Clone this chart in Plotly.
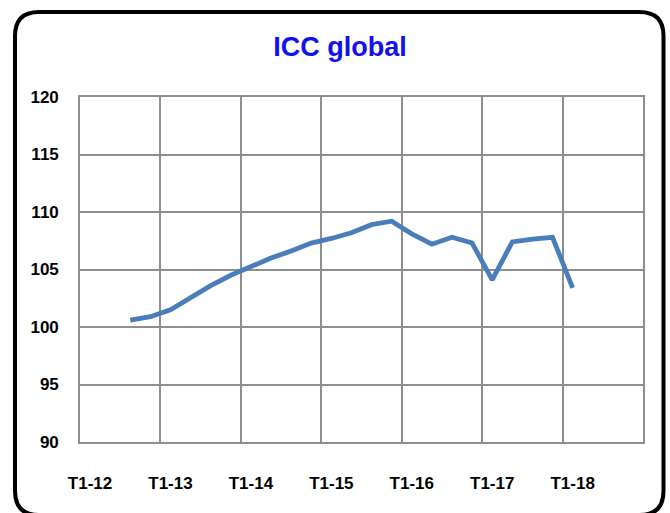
import plotly.graph_objects as go

# ---- data ----
years = ["12", "13", "14", "15", "16", "17", "18"]
quarters = [f"T{q}-{y}" for y in years for q in range(1, 5)]  # 28 quarterly categories
icc_values = [None, None,
              100.6, 100.9,
              101.5, 102.6, 103.6, 104.5,
              105.3, 106.0, 106.6, 107.3,
              107.7, 108.2, 108.9, 109.2,
              108.1, 107.2, 107.8, 107.3,
              104.1, 107.4, 107.65, 107.8,
              103.4, None, None, None]
tick_labels = [f"T1-{y}" for y in years]
title_text = "ICC global"

# ---- layout geometry ----
W, H = 670, 513
L, R, T, B = 80, 27, 97, 71
pw, ph = W - L - R, H - T - B


def px(x):
    return (x - L) / pw


def py(y):
    return (H - B - y) / ph


xs = list(range(len(quarters)))
tick_pos = [quarters.index(t) for t in tick_labels]
boundaries = [i - 0.5 for i in range(0, len(quarters) + 1, 4)]

fig = go.Figure()
fig.add_trace(go.Scatter(
    x=xs, y=icc_values, mode="lines",
    line=dict(color="#4a7ebb", width=4.8),
    connectgaps=False, showlegend=False, hoverinfo="skip",
    cliponaxis=False,
))

# rounded frame around the whole chart
x0, x1, y0, y1, r = 15, 663.5, 12, 515, 24
path = (
    f"M {px(x0 + r)},{py(y0)} L {px(x1 - r)},{py(y0)} "
    f"Q {px(x1)},{py(y0)} {px(x1)},{py(y0 + r)} "
    f"L {px(x1)},{py(y1 - r)} Q {px(x1)},{py(y1)} {px(x1 - r)},{py(y1)} "
    f"L {px(x0 + r)},{py(y1)} Q {px(x0)},{py(y1)} {px(x0)},{py(y1 - r)} "
    f"L {px(x0)},{py(y0 + r)} Q {px(x0)},{py(y0)} {px(x0 + r)},{py(y0)} Z"
)
fig.add_shape(type="path", path=path, xref="paper", yref="paper",
              line=dict(color="black", width=4), layer="above")

grid_col = "#8e8e8e"
fig.update_layout(
    width=W, height=H, autosize=False,
    margin=dict(l=L, r=R, t=T, b=B),
    paper_bgcolor="white", plot_bgcolor="white",
    title=dict(text=f"<b>{title_text}</b>", x=340 / W,
               xanchor="center", y=(H - 47) / H, yanchor="middle", yref="container",
               font=dict(family="Liberation Sans, Arial, sans-serif",
                         size=27, color="#1010f0")),
    xaxis=dict(
        range=[-0.5, len(quarters) - 0.5],
        tickmode="array", tickvals=tick_pos, ticktext=[f"<b>{t}</b>" for t in tick_labels],
        showgrid=False, zeroline=False, ticks="",
        showline=True, mirror=True, linecolor=grid_col, linewidth=1.6,
        ticklabelstandoff=25,
        tickfont=dict(family="Liberation Sans, Arial, sans-serif",
                      size=17, color="black"),
        minor=dict(tickmode="array", tickvals=boundaries, showgrid=True,
                   gridcolor=grid_col, gridwidth=1.6, ticks=""),
    ),
    yaxis=dict(
        range=[90, 120], dtick=5, tick0=90,
        showgrid=True, gridcolor=grid_col, gridwidth=1.6,
        zeroline=False, ticks="",
        showline=True, mirror=True, linecolor=grid_col, linewidth=1.6,
        ticklabelstandoff=16,
        tickfont=dict(family="Liberation Sans, Arial, sans-serif", size=17, color="black"),
        tickprefix="<b>", ticksuffix="</b>",
    ),
)

fig.write_html("out.html", config={"displayModeBar": False},
               post_script="document.body.style.margin='0';document.body.style.padding='0';")
